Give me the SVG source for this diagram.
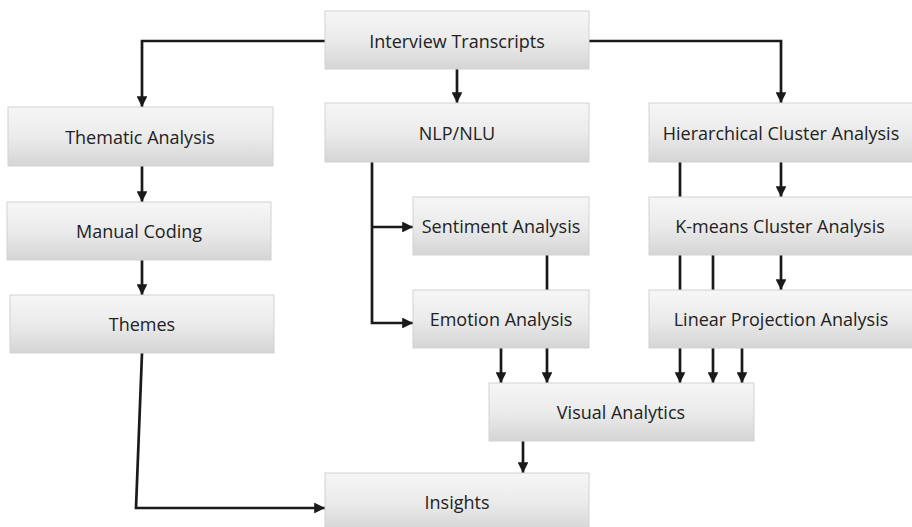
<svg xmlns="http://www.w3.org/2000/svg" width="912" height="527" viewBox="0 0 912 527">
  <defs>
    <linearGradient id="boxFill" x1="0" y1="0" x2="0" y2="1">
      <stop offset="0" stop-color="#f6f6f6"/>
      <stop offset="0.5" stop-color="#ebebeb"/>
      <stop offset="1" stop-color="#d5d5d5"/>
    </linearGradient>
    <marker id="arrow" viewBox="0 0 10 10" refX="10" refY="5" markerWidth="4.4" markerHeight="4" markerUnits="strokeWidth" orient="auto">
      <path d="M0,0 L10,5 L0,10 z" fill="#1a1a1a"/>
    </marker>
  </defs>
  <style>
    .box { fill: url(#boxFill); stroke: #d2d2d2; stroke-width: 1; }
    .label { font-family: "Open Sans", "Liberation Sans", sans-serif; font-size: 18px; fill: #222222; text-anchor: middle; dominant-baseline: central; }
    .edge { fill: none; stroke: #1a1a1a; stroke-width: 2.7; stroke-linejoin: miter; }
    .arr { marker-end: url(#arrow); }
  </style>
  <rect width="912" height="527" fill="#ffffff"/>

  <!-- connectors -->
  <g id="connectors">
    <!-- from Interview Transcripts -->
    <path class="edge arr" d="M325,41 H142 V107"/>
    <path class="edge arr" d="M457,69 V103"/>
    <path class="edge arr" d="M589,41 H781 V103"/>
    <!-- qualitative branch -->
    <path class="edge arr" d="M142,166 V202"/>
    <path class="edge arr" d="M142,260 V295"/>
    <path class="edge arr" d="M142,353 L136,508 H325"/>
    <!-- NLP branch -->
    <path class="edge arr" d="M372,162 V323 H413"/>
    <path class="edge arr" d="M372,227 H413"/>
    <path class="edge" d="M547,255 V290"/>
    <path class="edge arr" d="M501,348 V383"/>
    <path class="edge arr" d="M547,348 V383"/>
    <!-- cluster branch -->
    <path class="edge arr" d="M781,162 V197"/>
    <path class="edge arr" d="M781,255 V290"/>
    <path class="edge arr" d="M680,162 V383"/>
    <path class="edge arr" d="M713,255 V383"/>
    <path class="edge arr" d="M742,348 V383"/>
    <!-- to Insights -->
    <path class="edge arr" d="M523,441 V473"/>
  </g>

  <!-- nodes -->
  <g id="interview-transcripts">
    <rect class="box" x="325" y="11" width="264" height="58"/>
    <text class="label" x="457" y="41">Interview Transcripts</text>
  </g>
  <g id="thematic-analysis">
    <rect class="box" x="8" y="107" width="265" height="59"/>
    <text class="label" x="140" y="137">Thematic Analysis</text>
  </g>
  <g id="manual-coding">
    <rect class="box" x="7" y="202" width="264" height="58"/>
    <text class="label" x="139" y="231">Manual Coding</text>
  </g>
  <g id="themes">
    <rect class="box" x="10" y="295" width="264" height="58"/>
    <text class="label" x="142" y="324">Themes</text>
  </g>
  <g id="nlp-nlu">
    <rect class="box" x="325" y="103" width="264" height="59"/>
    <text class="label" x="457" y="133">NLP/NLU</text>
  </g>
  <g id="sentiment-analysis">
    <rect class="box" x="413" y="197" width="176" height="58"/>
    <text class="label" x="501" y="226">Sentiment Analysis</text>
  </g>
  <g id="emotion-analysis">
    <rect class="box" x="413" y="290" width="176" height="58"/>
    <text class="label" x="501" y="319">Emotion Analysis</text>
  </g>
  <g id="hierarchical-cluster-analysis">
    <rect class="box" x="649" y="103" width="264" height="59"/>
    <text class="label" x="781" y="133">Hierarchical Cluster Analysis</text>
  </g>
  <g id="k-means-cluster-analysis">
    <rect class="box" x="649" y="197" width="264" height="58"/>
    <text class="label" x="780" y="226">K-means Cluster Analysis</text>
  </g>
  <g id="linear-projection-analysis">
    <rect class="box" x="649" y="290" width="264" height="58"/>
    <text class="label" x="781" y="319">Linear Projection Analysis</text>
  </g>
  <g id="visual-analytics">
    <rect class="box" x="489" y="383" width="265" height="58"/>
    <text class="label" x="621" y="412">Visual Analytics</text>
  </g>
  <g id="insights">
    <rect class="box" x="325" y="473" width="264" height="58"/>
    <text class="label" x="457" y="502">Insights</text>
  </g>
</svg>
